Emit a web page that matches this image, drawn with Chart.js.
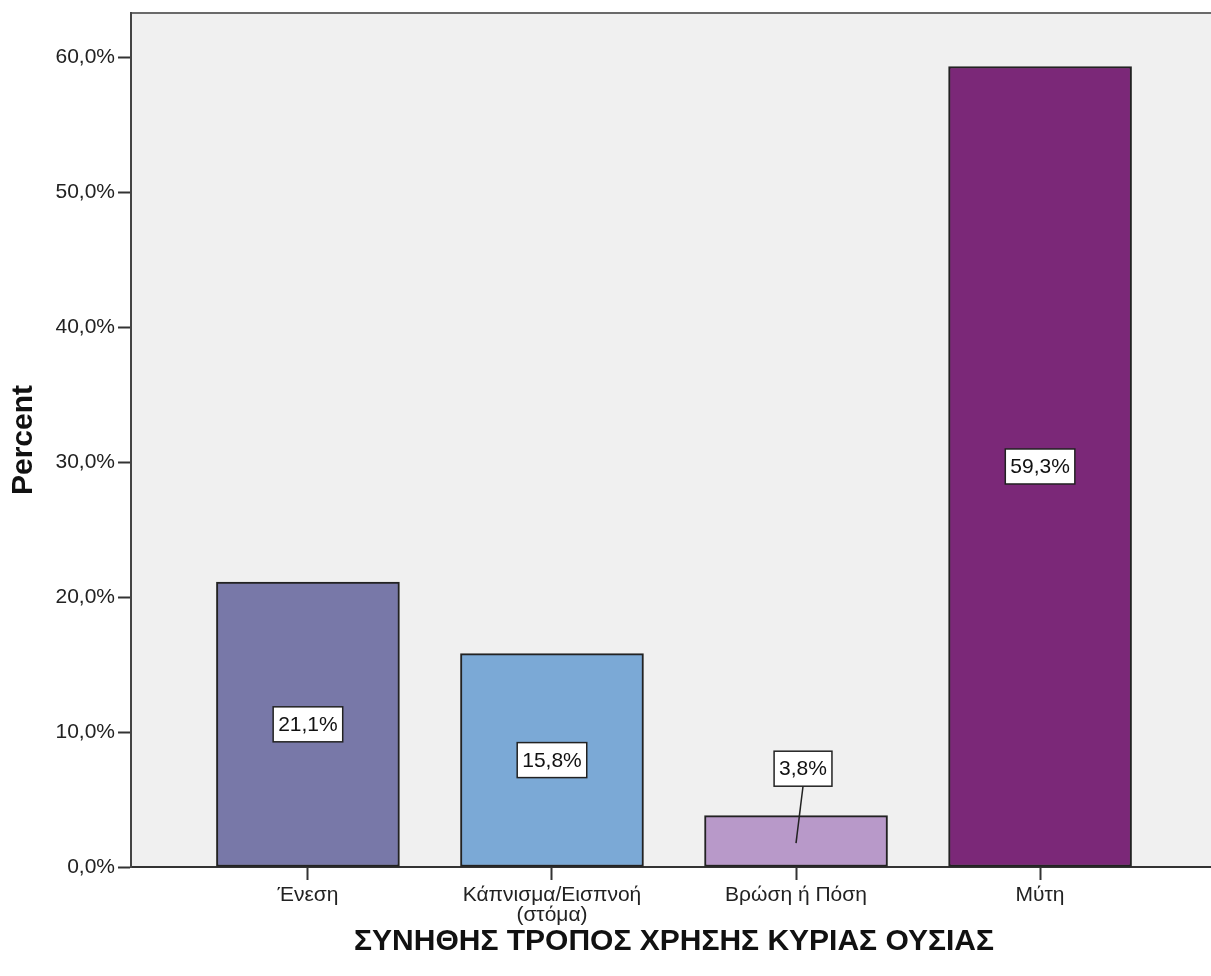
<!DOCTYPE html>
<html>
<head>
<meta charset="utf-8">
<script src="https://cdn.jsdelivr.net/npm/chart.js@4/dist/chart.umd.min.js"></script>
<style>
  html, body { margin: 0; padding: 0; background: #fff; overflow: hidden; }
  #wrap { position: relative; width: 1217px; height: 976px; }
</style>
</head>
<body>
<div id="wrap"><canvas id="c"></canvas></div>
<script>
// ---- data ----
const categories = ['Ένεση', ['Κάπνισμα/Εισπνοή', '(στόμα)'], 'Βρώση ή Πόση', 'Μύτη'];
const percentValues = [21.1, 15.8, 3.8, 59.3];
const barColors = ['#7878A8', '#7BA9D6', '#B899C9', '#7B2878'];
const yTickValues = [0, 10, 20, 30, 40, 50, 60];
const xAxisTitle = 'ΣΥΝΗΘΗΣ ΤΡΟΠΟΣ ΧΡΗΣΗΣ ΚΥΡΙΑΣ ΟΥΣΙΑΣ';
const yAxisTitle = 'Percent';

const FONT = '"Liberation Sans", Arial, sans-serif';
const fmt = v => v.toFixed(1).replace('.', ',') + '%';

const plotBg = {
  id: 'plotBg',
  beforeDraw(chart) {
    const { ctx, chartArea: a } = chart;
    ctx.save();
    ctx.fillStyle = '#F0F0F0';
    ctx.fillRect(a.left, a.top, a.right - a.left, a.bottom - a.top);
    ctx.strokeStyle = '#6a6a6a';
    ctx.lineWidth = 2;
    ctx.beginPath();
    ctx.moveTo(a.left, a.top);
    ctx.lineTo(a.right, a.top);
    ctx.stroke();
    ctx.restore();
  }
};

const valueLabels = {
  id: 'valueLabels',
  afterDatasetsDraw(chart) {
    const { ctx } = chart;
    const meta = chart.getDatasetMeta(0);
    ctx.save();
    ctx.font = '21px ' + FONT;
    ctx.textAlign = 'center';
    ctx.textBaseline = 'middle';
    meta.data.forEach((bar, i) => {
      const txt = fmt(percentValues[i]);
      const w = ctx.measureText(txt).width + 10;
      const h = 35;
      const midY = (bar.y + bar.base) / 2;
      let cx = bar.x, cy = midY;
      const barH = bar.base - bar.y;
      if (barH < 70) {
        cx = bar.x + 7;
        cy = bar.y - 47;
        ctx.strokeStyle = '#222';
        ctx.lineWidth = 1.5;
        ctx.beginPath();
        ctx.moveTo(bar.x, midY + 2);
        ctx.lineTo(cx, cy + h / 2);
        ctx.stroke();
      }
      ctx.fillStyle = '#fff';
      ctx.fillRect(cx - w / 2, cy - h / 2, w, h);
      ctx.strokeStyle = '#222';
      ctx.lineWidth = 1.5;
      ctx.strokeRect(cx - w / 2, cy - h / 2, w, h);
      ctx.fillStyle = '#111';
      ctx.fillText(txt, cx, cy + 1);
    });
    ctx.restore();
  }
};

new Chart(document.getElementById('c'), {
  type: 'bar',
  data: {
    datasets: [{
      data: percentValues.map((v, i) => ({ x: i, y: v })),
      backgroundColor: barColors,
      borderColor: '#222',
      borderWidth: 2,
      borderSkipped: false,
      barThickness: 183
    }]
  },
  options: {
    responsive: true,
    maintainAspectRatio: false,
    animation: false,
    layout: { padding: { top: 13, left: 0, right: 0, bottom: 0 } },
    plugins: {
      legend: { display: false },
      tooltip: { enabled: false }
    },
    scales: {
      x: {
        type: 'linear',
        offset: false,
        min: -0.725,
        max: 3.725,
        afterBuildTicks: s => { s.ticks = categories.map((_, i) => ({ value: i })); },
        afterFit: s => { s.height = 109; s.paddingLeft = 0; s.paddingRight = 0; },
        ticks: {
          autoSkip: false,
          maxRotation: 0,
          padding: 5,
          color: '#222',
          font: { family: FONT, size: 21, lineHeight: 0.95 },
          callback: v => categories[v]
        },
        grid: {
          offset: false,
          drawOnChartArea: false,
          drawTicks: true,
          tickLength: 13,
          tickWidth: 2,
          tickColor: '#333'
        },
        border: { display: true, color: '#333', width: 2 },
        title: {
          display: true,
          text: xAxisTitle,
          color: '#111',
          font: { family: FONT, size: 30, weight: 'bold' },
          padding: { top: 0, bottom: 16 }
        }
      },
      y: {
        min: 0,
        max: 63.26,
        afterBuildTicks: s => { s.ticks = yTickValues.map(v => ({ value: v })); },
        afterFit: s => { s.width = 131; s.paddingTop = 0; s.paddingBottom = 0; },
        ticks: {
          padding: 3,
          color: '#222',
          font: { family: FONT, size: 21 },
          callback: v => fmt(v)
        },
        grid: {
          drawOnChartArea: false,
          drawTicks: true,
          tickLength: 13,
          tickWidth: 2,
          tickColor: '#333'
        },
        border: { display: true, color: '#444', width: 2 },
        title: {
          display: true,
          text: yAxisTitle,
          color: '#111',
          font: { family: FONT, size: 30, weight: 'bold' },
          padding: { top: 6, bottom: 0 }
        }
      }
    }
  },
  plugins: [plotBg, valueLabels]
});
</script>
</body>
</html>
